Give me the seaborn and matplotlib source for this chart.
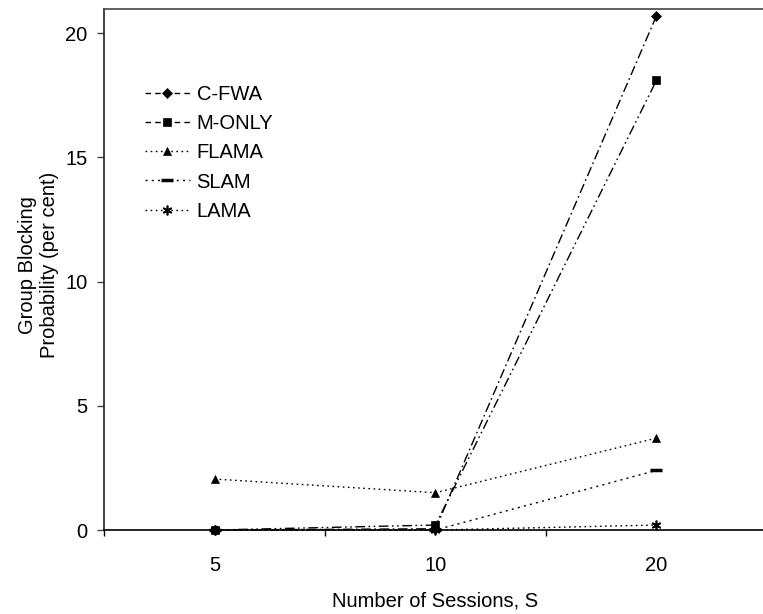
import matplotlib
matplotlib.use("Agg")
import matplotlib.pyplot as plt
import seaborn as sns
import pandas as pd
import numpy as np
from matplotlib.ticker import FixedLocator

sessions = ["5", "10", "20"]
c_fwa = [0.0, 0.05, 20.7]
m_only = [0.0, 0.2, 18.1]
flama = [2.05, 1.5, 3.7]
slam = [0.0, 0.0, 2.4]
lama = [0.0, 0.0, 0.2]
series_names = ["C-FWA", "M-ONLY", "FLAMA", "SLAM", "LAMA"]
yticks = [0, 5, 10, 15, 20]

sns.set_theme(style="ticks")
plt.rcParams["font.family"] = ["Liberation Sans", "DejaVu Sans"]
plt.rcParams["text.color"] = "black"
plt.rcParams["axes.labelcolor"] = "black"
plt.rcParams["xtick.color"] = "black"
plt.rcParams["ytick.color"] = "black"

FS = 14.5
fig = plt.figure(figsize=(7.63, 6.14), dpi=100)
ax = fig.add_axes([104 / 763, 1 - 530 / 614, (767 - 104) / 763, (530 - 9) / 614])

styles = {
    "C-FWA": dict(marker="D", markersize=5, linestyle=(0, (7, 2.5, 1.2, 2.5))),
    "M-ONLY": dict(marker="s", markersize=6, linestyle=(0, (7, 2.5, 1.2, 2.5, 1.2, 2.5))),
    "FLAMA": dict(marker="^", markersize=6, linestyle=(0, (1.2, 2.5))),
    "SLAM": dict(marker="_", markersize=8, markeredgewidth=2.5, linestyle=(0, (1.5, 3))),
    "LAMA": dict(marker=(6, 2, 0), markersize=7, markeredgewidth=1.2, linestyle=(0, (1.2, 2.5))),
}
values = dict(zip(series_names, [c_fwa, m_only, flama, slam, lama]))
xpos = np.arange(len(sessions))

for name in series_names:
    df = pd.DataFrame({"x": xpos, "y": values[name]})
    st = styles[name]
    sns.lineplot(data=df, x="x", y="y", ax=ax, color="black", linewidth=1.0,
                 marker=st["marker"], markersize=st["markersize"],
                 markeredgewidth=st.get("markeredgewidth", 0.5),
                 markerfacecolor="black", markeredgecolor="black",
                 linestyle=st["linestyle"], label=name, clip_on=False)

ax.set_xlim(-0.5, 2.5)
ax.set_ylim(0, 20.97)
ax.set_xticks(xpos)
ax.set_xticklabels(sessions, fontsize=FS, color="black")
ax.xaxis.set_minor_locator(FixedLocator([-0.5, 0.5, 1.5, 2.5]))
ax.tick_params(axis="x", which="major", length=0, pad=19)
ax.tick_params(axis="x", which="minor", length=4.5, width=1, color="black", direction="out", bottom=True)
ax.set_yticks(yticks)
ax.set_yticklabels([str(v) for v in yticks], fontsize=FS, color="black")
ax.tick_params(axis="y", which="major", length=5, width=1, color="#444444", direction="out", left=True, pad=7)

for sp in ["left", "bottom", "top"]:
    ax.spines[sp].set_visible(True)
    ax.spines[sp].set_linewidth(1.2)
ax.spines["left"].set_color("#222222")
ax.spines["bottom"].set_color("black")
ax.spines["top"].set_color("#444444")
ax.spines["right"].set_visible(False)

ax.set_xlabel("Number of Sessions, S", fontsize=FS, color="black")
ax.xaxis.set_label_coords(0.5, -0.118)
ax.set_ylabel("Group Blocking\nProbability (per cent)", fontsize=FS, color="black")
ax.yaxis.set_label_coords(-0.068, 0.509)

leg = ax.legend(loc="upper left", bbox_to_anchor=(0.05, 0.869), frameon=False,
                fontsize=FS, handlelength=2.2, handletextpad=0.35, labelspacing=0.5,
                borderaxespad=0)
for t in leg.get_texts():
    t.set_color("black")
# legend samples for C-FWA and M-ONLY appear as plain long dashes in the reference
for h, name in zip(leg.get_lines(), series_names):
    if name in ("C-FWA", "M-ONLY"):
        h.set_linestyle((0, (4, 3)))

fig.savefig("out.png", dpi=100)
